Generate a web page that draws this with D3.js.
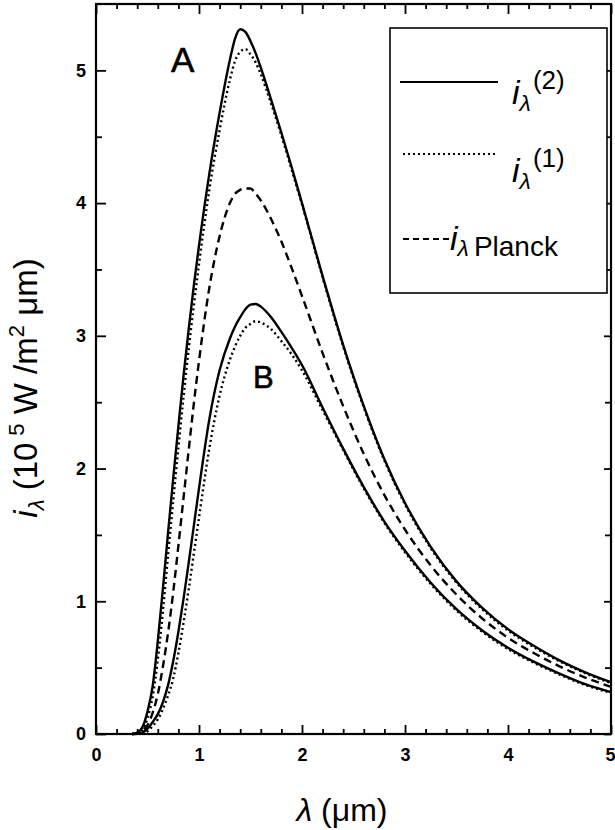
<!DOCTYPE html>
<html><head><meta charset="utf-8">
<script src="https://cdn.jsdelivr.net/npm/d3@7"></script>
<style>
html,body{margin:0;padding:0;background:#fff;}
svg text{font-family:"Liberation Sans",Arial,sans-serif;fill:#000;}
</style></head>
<body>
<svg id="chart" width="615" height="830"></svg>
<script>
// ---- data ----
const xTicks = [0, 1, 2, 3, 4, 5];
const yTicks = [0, 1, 2, 3, 4, 5];
const xMinor = [0.2,0.4,0.6,0.8,1.2,1.4,1.6,1.8,2.2,2.4,2.6,2.8,3.2,3.4,3.6,3.8,4.2,4.4,4.6,4.8];
const yMinor = [0.5,1.5,2.5,3.5,4.5];

const lam = [0.35,0.40,0.45,0.50,0.55,0.60,0.65,0.70,0.75,0.80,0.85,0.90,0.95,1.00,1.10,1.20,1.30,1.35,1.40,1.45,1.50,1.55,1.60,1.70,1.80,1.90,2.00,2.20,2.40,2.60,2.80,3.00,3.25,3.50,3.75,4.00,4.25,4.50,4.75,5.00];
const iA2 = [0,0.01,0.05,0.17,0.36,0.70,1.10,1.52,1.93,2.32,2.70,3.05,3.38,3.68,4.22,4.68,5.08,5.24,5.31,5.29,5.22,5.13,5.02,4.78,4.53,4.27,4.00,3.45,2.93,2.47,2.07,1.74,1.41,1.15,0.95,0.79,0.665,0.555,0.465,0.39];
const iA1 = [0,0.005,0.03,0.12,0.28,0.56,0.93,1.35,1.76,2.16,2.54,2.90,3.23,3.54,4.10,4.55,4.93,5.07,5.14,5.16,5.12,5.06,4.97,4.75,4.51,4.25,3.99,3.44,2.92,2.46,2.06,1.73,1.40,1.14,0.94,0.78,0.655,0.548,0.458,0.384];
const iPl = [0,0.006,0.025,0.067,0.16,0.30,0.51,0.765,1.07,1.42,1.78,2.14,2.49,2.81,3.36,3.75,4.00,4.07,4.10,4.11,4.11,4.07,4.02,3.88,3.71,3.51,3.30,2.87,2.47,2.11,1.80,1.54,1.27,1.05,0.87,0.725,0.61,0.51,0.425,0.355];
const iB2 = [0,0.002,0.01,0.04,0.09,0.15,0.24,0.37,0.55,0.77,1.02,1.29,1.57,1.85,2.37,2.74,2.98,3.07,3.14,3.20,3.235,3.24,3.22,3.14,3.03,2.91,2.78,2.46,2.15,1.86,1.60,1.38,1.14,0.94,0.78,0.65,0.545,0.455,0.375,0.315];
const iB1 = [0,0.001,0.005,0.02,0.06,0.11,0.19,0.29,0.42,0.61,0.84,1.09,1.36,1.63,2.15,2.55,2.82,2.92,3.00,3.06,3.09,3.11,3.10,3.05,2.96,2.86,2.74,2.44,2.14,1.85,1.59,1.37,1.13,0.93,0.77,0.64,0.537,0.448,0.369,0.31];

// ---- layout ----
const svg = d3.select("#chart");
const L = 96, R = 611, T = 4, B = 734;
const x = d3.scaleLinear().domain([0,5]).range([L,R]);
const y = d3.scaleLinear().domain([0,5.5]).range([B,T]);

function styleAxis(g){ g.select(".domain").remove(); g.selectAll("line").attr("stroke","#000").attr("stroke-width",1.8); }

svg.append("g").attr("transform",`translate(0,${B})`)
  .call(d3.axisBottom(x).tickValues(xTicks).tickSize(-9).tickPadding(14).tickFormat(d3.format("d")))
  .call(styleAxis)
  .call(g=>g.selectAll("text").attr("font-size",18).attr("font-weight","bold"))
  .call(g=>g.selectAll(".tick").filter(d=>d===5).select("text").attr("text-anchor","end").attr("x",4));
svg.append("g").attr("transform",`translate(0,${B})`)
  .call(d3.axisBottom(x).tickValues(xMinor).tickSize(-5).tickFormat(""))
  .call(styleAxis);
svg.append("g").attr("transform",`translate(0,${T})`)
  .call(d3.axisTop(x).tickValues(xTicks).tickSize(-10).tickFormat(""))
  .call(styleAxis);
svg.append("g").attr("transform",`translate(0,${T})`)
  .call(d3.axisTop(x).tickValues(xMinor).tickSize(-5).tickFormat(""))
  .call(styleAxis);
svg.append("g").attr("transform",`translate(${L},0)`)
  .call(d3.axisLeft(y).tickValues(yTicks).tickSize(-10).tickPadding(10).tickFormat(d3.format("d")))
  .call(styleAxis)
  .call(g=>g.selectAll("text").attr("font-size",18).attr("font-weight","bold"));
svg.append("g").attr("transform",`translate(${L},0)`)
  .call(d3.axisLeft(y).tickValues(yMinor).tickSize(-6).tickFormat(""))
  .call(styleAxis);
svg.append("g").attr("transform",`translate(${R},0)`)
  .call(d3.axisRight(y).tickValues(yTicks).tickSize(-7).tickFormat(""))
  .call(styleAxis);
svg.append("g").attr("transform",`translate(${R},0)`)
  .call(d3.axisRight(y).tickValues(yMinor).tickSize(-6).tickFormat(""))
  .call(styleAxis);

svg.append("rect").attr("x",L).attr("y",T).attr("width",R-L).attr("height",B-T)
  .attr("fill","none").attr("stroke","#000").attr("stroke-width",2.2);

// curves
const line = d3.line().x((d,i)=>x(lam[i])).y(d=>y(d)).curve(d3.curveMonotoneX);
const series = [
  {v:iA2, dash:null},
  {v:iA1, dash:"2,3"},
  {v:iPl, dash:"8,5"},
  {v:iB2, dash:null},
  {v:iB1, dash:"2,3"}
];
svg.append("g").selectAll("path").data(series).join("path")
  .attr("d",d=>line(d.v)).attr("fill","none").attr("stroke","#000")
  .attr("stroke-width",2.4).attr("stroke-dasharray",d=>d.dash);

// curve labels
svg.append("text").attr("x",171).attr("y",72).attr("font-size",35).attr("stroke","#000").attr("stroke-width",0.6).text("A");
svg.append("text").attr("x",253).attr("y",388).attr("font-size",31).attr("stroke","#000").attr("stroke-width",0.6).text("B");

// legend
const lg = svg.append("g");
lg.append("rect").attr("x",390).attr("y",28).attr("width",217).attr("height",265)
  .attr("fill","#fff").attr("stroke","#000").attr("stroke-width",1.6);
lg.append("line").attr("x1",400).attr("x2",498).attr("y1",82).attr("y2",82).attr("stroke","#000").attr("stroke-width",2);
lg.append("line").attr("x1",403).attr("x2",498).attr("y1",154).attr("y2",154).attr("stroke","#000").attr("stroke-width",2).attr("stroke-dasharray","2,3");
lg.append("line").attr("x1",403).attr("x2",453).attr("y1",239).attr("y2",239).attr("stroke","#000").attr("stroke-width",2).attr("stroke-dasharray","6,4");

function iLam(g, x0, yb, sup){
  const t = g.append("text").attr("x",x0).attr("y",yb);
  t.append("tspan").attr("font-size",34).attr("font-style","italic").text("i");
  t.append("tspan").attr("font-size",23).attr("font-style","italic").attr("dy",7).text("λ");
  t.append("tspan").attr("font-size",26).attr("dy",-22).attr("dx",2).text(sup);
  return t;
}
iLam(lg, 512, 104, "(2)");
iLam(lg, 512, 182, "(1)");
const tp = lg.append("text").attr("x",450).attr("y",250);
tp.append("tspan").attr("font-size",34).attr("font-style","italic").text("i");
tp.append("tspan").attr("font-size",23).attr("font-style","italic").attr("dy",6).text("λ");
tp.append("tspan").attr("font-size",28).attr("dx",5).text("Planck");

// axis titles
const xt = svg.append("text").attr("x",342).attr("y",821).attr("text-anchor","middle").attr("font-size",32);
xt.append("tspan").attr("font-style","italic").text("λ");
xt.append("tspan").text(" (μm)");

const yt = svg.append("text").attr("transform","translate(37,388) rotate(-90)").attr("text-anchor","middle").attr("font-size",33);
yt.append("tspan").attr("font-style","italic").text("i");
yt.append("tspan").attr("font-style","italic").attr("font-size",22).attr("dy",7).text("λ");
yt.append("tspan").attr("dy",-7).text(" (10");
yt.append("tspan").attr("font-size",22).attr("dy",-13).attr("dx",7).text("5");
yt.append("tspan").attr("dy",13).text(" W /m");
yt.append("tspan").attr("font-size",22).attr("dy",-13).text("2");
yt.append("tspan").attr("dy",13).text(" μm)");
</script>
</body></html>
